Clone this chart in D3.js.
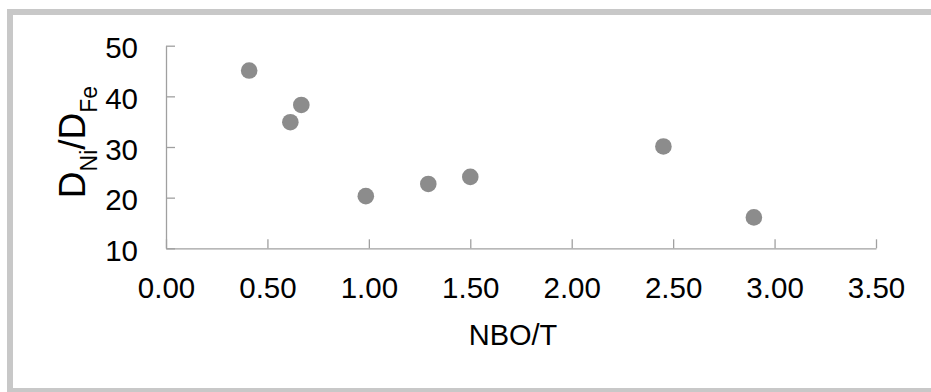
<!DOCTYPE html>
<html>
<head>
<meta charset="utf-8">
<script src="https://cdn.jsdelivr.net/npm/d3@7"></script>
<style>
  html, body { margin: 0; padding: 0; background: #fff; }
  svg { display: block; font-family: "Liberation Sans", Arial, sans-serif; }
</style>
</head>
<body>
<svg id="chart" width="931" height="392"></svg>
<script>
// NBO/T against the Ni/Fe partition coefficient ratio
const nboT    = [0.41, 0.613, 0.667, 0.985, 1.293, 1.50, 2.452, 2.898];
const dNiDFe  = [45.1, 34.9, 38.3, 20.3, 22.7, 24.1, 30.1, 16.1];
const xTicks  = [0, 0.5, 1.0, 1.5, 2.0, 2.5, 3.0, 3.5];
const yTicks  = [10, 20, 30, 40, 50];

const svg = d3.select("#chart");

// outer frame
svg.append("rect")
  .attr("x", 10).attr("y", 12)
  .attr("width", 1000).attr("height", 379)
  .attr("fill", "#fff")
  .attr("stroke", "#c8c8c8")
  .attr("stroke-width", 6);

const plotLeft = 166, plotRight = 876, plotTop = 45.7, plotBottom = 248.3;

const x = d3.scaleLinear().domain([0, 3.5]).range([plotLeft, plotRight]);
const y = d3.scaleLinear().domain([10, 50]).range([plotBottom, plotTop]);

const axisColor = "#a0a0a0";

// x axis with inward ticks
const gx = svg.append("g")
  .attr("transform", `translate(0,${plotBottom})`)
  .call(d3.axisBottom(x).tickValues(xTicks).tickSizeInner(-9).tickSizeOuter(0).tickFormat(d3.format(".2f")));
gx.select(".domain").attr("stroke", axisColor).attr("stroke-width", 1.3);
gx.selectAll(".tick line").attr("stroke", axisColor).attr("stroke-width", 1.3);
gx.selectAll(".tick text")
  .attr("y", 50)
  .attr("dy", 0)
  .attr("fill", "#000")
  .style("font-size", "29.5px");

// y axis with inward ticks
const gy = svg.append("g")
  .attr("transform", `translate(${plotLeft},0)`)
  .call(d3.axisLeft(y).tickValues(yTicks).tickSizeInner(-9).tickSizeOuter(0));
gy.select(".domain").attr("stroke", axisColor).attr("stroke-width", 1.3);
gy.selectAll(".tick text")
  .attr("x", -28)
  .attr("dy", "0.41em")
  .attr("fill", "#000")
  .style("font-size", "29.5px");
gy.selectAll(".tick line").attr("stroke", axisColor).attr("stroke-width", 1.3);

// points
svg.append("g")
  .selectAll("circle")
  .data(nboT.map((v, i) => [v, dNiDFe[i]]))
  .join("circle")
  .attr("cx", d => x(d[0]))
  .attr("cy", d => y(d[1]))
  .attr("r", 8.3)
  .attr("fill", "#8c8c8c");

// x title
svg.append("text")
  .attr("x", 513)
  .attr("y", 345)
  .attr("text-anchor", "middle")
  .attr("fill", "#000")
  .style("font-size", "29px")
  .text("NBO/T");

// y title with subscripts
const yt = svg.append("text")
  .attr("transform", "translate(85,142) rotate(-90)")
  .attr("text-anchor", "middle")
  .attr("fill", "#000")
  .style("font-size", "37px");
yt.append("tspan").text("D");
yt.append("tspan").attr("dy", 12).style("font-size", "23px").text("Ni");
yt.append("tspan").attr("dy", -12).text("/D");
yt.append("tspan").attr("dy", 12).style("font-size", "23px").text("Fe");
</script>
</body>
</html>
